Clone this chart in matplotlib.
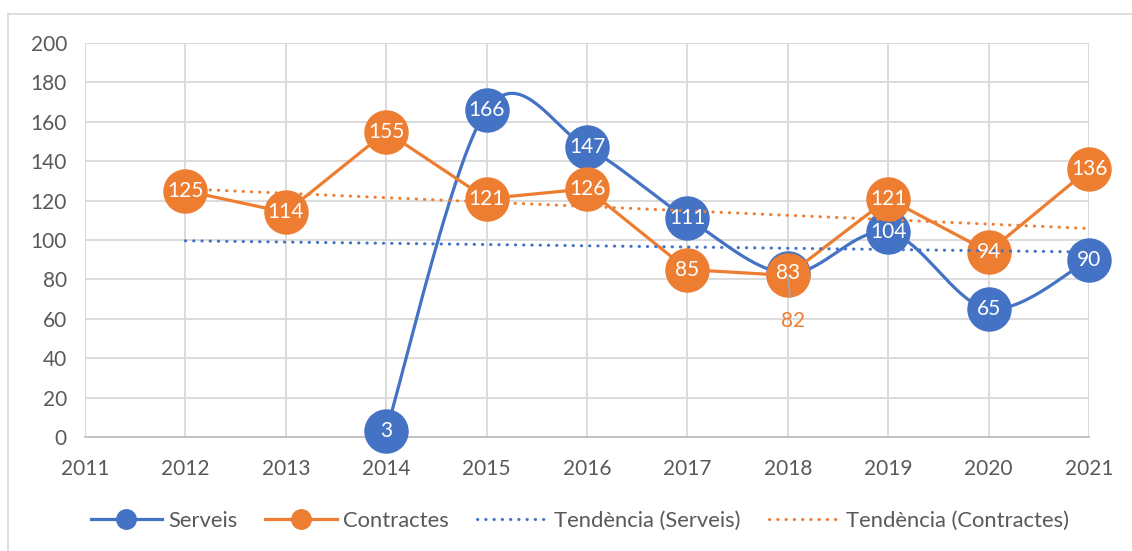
import numpy as np
import matplotlib.pyplot as plt
from matplotlib.lines import Line2D

years = [2011, 2012, 2013, 2014, 2015, 2016, 2017, 2018, 2019, 2020, 2021]
serveis_years = [2014, 2015, 2016, 2017, 2018, 2019, 2020, 2021]
serveis = [3, 166, 147, 111, 83, 104, 65, 90]
contractes_years = [2012, 2013, 2014, 2015, 2016, 2017, 2018, 2019, 2020, 2021]
contractes = [125, 114, 155, 121, 126, 85, 82, 121, 94, 136]
y_ticks = [0, 20, 40, 60, 80, 100, 120, 140, 160, 180, 200]

BLUE = '#4472c4'
ORANGE = '#ed7d31'
GREY_TXT = '#595959'
FONT = 'Lato'


def smooth(xs, ys, n=40):
    # Excel-like smoothed line: cubic Bezier with Catmull-Rom control points
    xs = np.asarray(xs, float)
    ys = np.asarray(ys, float)
    px = np.concatenate([[xs[0]], xs, [xs[-1]]])
    py = np.concatenate([[ys[0]], ys, [ys[-1]]])
    out_x, out_y = [], []
    t = np.linspace(0, 1, n)
    for i in range(1, len(px) - 2):
        p0 = np.array([px[i], py[i]])
        p3 = np.array([px[i + 1], py[i + 1]])
        c1 = p0 + (p3 - np.array([px[i - 1], py[i - 1]])) / 6
        c2 = p3 - (np.array([px[i + 2], py[i + 2]]) - p0) / 6
        b = ((1 - t) ** 3)[:, None] * p0 + (3 * (1 - t) ** 2 * t)[:, None] * c1 \
            + (3 * (1 - t) * t ** 2)[:, None] * c2 + (t ** 3)[:, None] * p3
        out_x.extend(b[:, 0])
        out_y.extend(b[:, 1])
    return out_x, out_y


def trend(xs, ys, x_from, x_to):
    k, b = np.polyfit(xs, ys, 1)
    return [x_from, x_to], [k * x_from + b, k * x_to + b]


fig = plt.figure(figsize=(11.32, 5.51), dpi=100)
ax = fig.add_axes([85 / 1132, 1 - 437 / 551, (1089 - 85) / 1132, (437 - 43) / 551])

# outer chart border (top and left visible)
fig.add_artist(Line2D([8 / 1132, 1], [1 - 14 / 551] * 2, color='#d9d9d9', lw=1.2))
fig.add_artist(Line2D([8 / 1132] * 2, [0, 1 - 14 / 551], color='#d9d9d9', lw=1.2))

dot = (0, (0.1, 2.6))

sx, sy = smooth(serveis_years, serveis)
ax.plot(sx, sy, color=BLUE, lw=2.3, zorder=3, solid_capstyle='round', clip_on=False)
ax.plot(serveis_years, serveis, 'o', color=BLUE, ms=31, zorder=4, clip_on=False)

ax.plot(contractes_years, contractes, color=ORANGE, lw=2.3, zorder=5, clip_on=False)
ax.plot(contractes_years, contractes, 'o', color=ORANGE, ms=31, zorder=6, clip_on=False)

tx, ty = trend(serveis_years, serveis, 2012, 2021)
ax.plot(tx, ty, color=BLUE, lw=2.2, ls=dot, dash_capstyle='round', zorder=7)
tx, ty = trend(contractes_years, contractes, 2012, 2021)
ax.plot(tx, ty, color=ORANGE, lw=2.2, ls=dot, dash_capstyle='round', zorder=7)

# data labels
for x, v in zip(serveis_years, serveis):
    ax.annotate(str(v), (x, v), ha='center', va='center', color='white',
                fontsize=15, family=FONT, zorder=10)
for x, v in zip(contractes_years, contractes):
    if x == 2018:
        ax.annotate(str(v), (x, v), xytext=(4, -33), textcoords='offset points',
                    ha='center', va='center', color=ORANGE, fontsize=15,
                    family=FONT, zorder=10,
                    arrowprops=dict(arrowstyle='-', color='#a6a6a6', lw=1.2,
                                    shrinkA=8, shrinkB=0))
        continue
    ax.annotate(str(v), (x, v), ha='center', va='center', color='white',
                fontsize=15, family=FONT, zorder=10)

ax.set_xlim(2011, 2021)
ax.set_ylim(0, 200)
ax.set_xticks(years)
ax.set_yticks(y_ticks)
ax.tick_params(length=0, labelsize=15, labelcolor=GREY_TXT)
ax.tick_params(axis='x', pad=16)
ax.tick_params(axis='y', pad=13)
for lab in ax.get_xticklabels() + ax.get_yticklabels():
    lab.set_family(FONT)
ax.grid(True, color='#d9d9d9', lw=1.3)
ax.set_axisbelow(True)
for side in ('top', 'right', 'left'):
    ax.spines[side].set_visible(False)
ax.spines['bottom'].set_color('#bfbfbf')
ax.spines['bottom'].set_linewidth(1.3)
ax.spines['bottom'].set_zorder(1)

handles = [
    Line2D([], [], color=BLUE, lw=2.3, marker='o', ms=14),
    Line2D([], [], color=ORANGE, lw=2.3, marker='o', ms=14),
    Line2D([], [], color=BLUE, lw=2.2, ls=dot, dash_capstyle='round'),
    Line2D([], [], color=ORANGE, lw=2.2, ls=dot, dash_capstyle='round'),
]
labels = ['Serveis', 'Contractes', 'Tendència (Serveis)', 'Tendència (Contractes)']
leg = fig.legend(handles, labels, loc='center', bbox_to_anchor=(580 / 1132, 1 - 521 / 551),
                 ncol=4, frameon=False, handlelength=3.25,
                 handletextpad=0.28, columnspacing=1.28,
                 prop={'family': FONT, 'size': 15.8})
for t in leg.get_texts():
    t.set_color(GREY_TXT)

fig.savefig('out.png', dpi=100)
